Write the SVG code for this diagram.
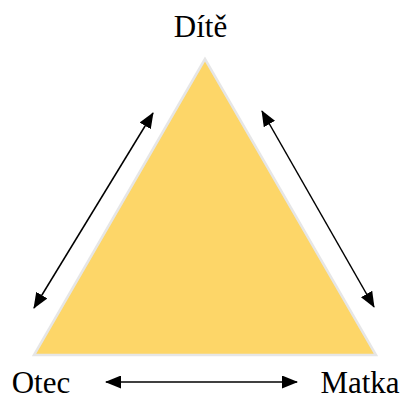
<svg xmlns="http://www.w3.org/2000/svg" width="403" height="394" viewBox="0 0 403 394">
<style>
.lbl{font-family:"Liberation Serif","Times New Roman",serif;font-size:31px;fill:#000}
.con{stroke:#000;stroke-width:1.5;fill:none}
</style>
<defs>
<marker id="ah" viewBox="0 0 16 13" refX="15" refY="6.5" markerWidth="16" markerHeight="13" markerUnits="userSpaceOnUse" orient="auto-start-reverse">
<path d="M0,0 L16,6.5 L0,13 z" fill="#000"/>
</marker>
</defs>
<g id="triangle">
<polygon points="205,59 34,355 376,355" fill="#FDD668" stroke="#E6E6E6" stroke-width="2.5"/>
</g>
<g id="dite"><text class="lbl" x="200.5" y="36.5" text-anchor="middle">Dítě</text></g>
<g id="otec"><text class="lbl" x="41" y="393" text-anchor="middle">Otec</text></g>
<g id="matka"><text class="lbl" x="360" y="393" text-anchor="middle">Matka</text></g>
<g id="connectors">
<line class="con" x1="153" y1="113" x2="34" y2="308" marker-start="url(#ah)" marker-end="url(#ah)"/>
<line class="con" x1="262" y1="111" x2="374" y2="307" marker-start="url(#ah)" marker-end="url(#ah)"/>
<line class="con" x1="106" y1="382" x2="297" y2="382" marker-start="url(#ah)" marker-end="url(#ah)"/>
</g>
</svg>
